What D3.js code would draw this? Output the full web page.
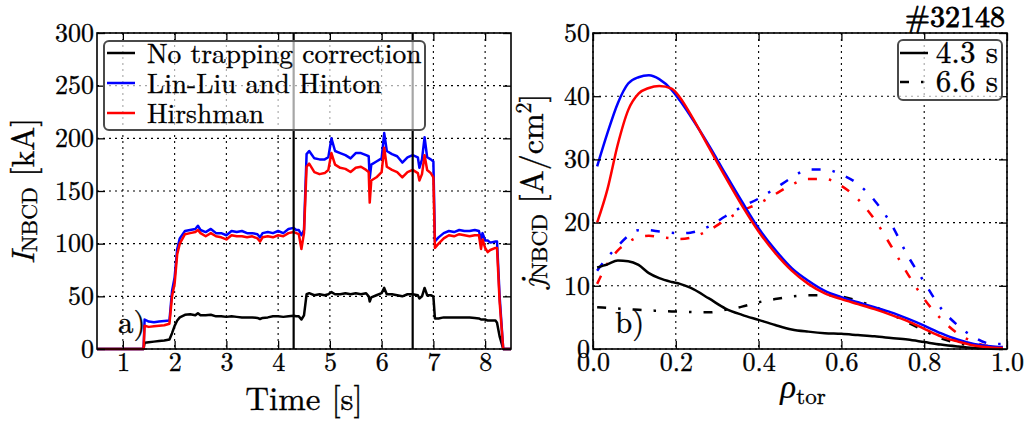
<!DOCTYPE html>
<html>
<head>
<meta charset="utf-8">
<script src="https://cdn.jsdelivr.net/npm/d3@7"></script>
</head>
<body style="margin:0;padding:0;background:#fff">
<svg id="chart" width="1027" height="423" font-family="Latin Modern Roman, Liberation Serif, serif"></svg>
<script>
// ---------------- DATA ----------------
// Panel a) time traces of NBCD current [kA]
const timeS = [0.5, 1.40, 1.42, 1.5, 1.6, 1.7, 1.8, 1.9, 1.95, 2.0, 2.05, 2.1, 2.2, 2.3, 2.4, 2.45, 2.5, 2.6, 2.7, 2.8, 2.9,
  3.0, 3.1, 3.2, 3.3, 3.4, 3.5, 3.6, 3.65, 3.7, 3.8, 3.9, 4.0, 4.1, 4.2, 4.3, 4.35, 4.4, 4.45, 4.5, 4.55, 4.6, 4.7, 4.8, 4.9, 4.97,
  5.03, 5.1, 5.2, 5.3, 5.4, 5.5, 5.6, 5.7, 5.75, 5.77, 5.8, 5.9, 6.0, 6.05, 6.1, 6.2, 6.3, 6.4, 6.5, 6.6, 6.7, 6.73, 6.78, 6.83,
  6.88, 6.95, 7.0, 7.03, 7.1, 7.2, 7.3, 7.4, 7.5, 7.6, 7.7, 7.8, 7.88, 7.92, 7.95, 8.0, 8.05, 8.1, 8.2, 8.23, 8.28, 8.35, 8.5];
const iLinLiu = [0, 0, 28, 26, 25.5, 26, 26.5, 27, 55, 68, 95, 105, 112, 113, 114, 117, 113, 111, 114, 110, 110,
  108, 112, 111, 112, 110, 110, 109, 106, 110, 111, 110, 112, 110, 114, 115, 113, 113, 108, 113, 185, 188, 181, 180, 180, 182,
  200, 188, 186, 184, 181, 186, 186, 184, 183, 162, 175, 178, 181, 205, 188, 185, 183, 177, 182, 184, 182, 172, 180, 201,
  182, 180, 178, 102, 106, 110, 112, 111, 113, 112, 112, 113, 112, 104, 110, 103, 103, 101, 102, 102, 50, 0, 0];
const iHirsh = [0, 0, 22, 21, 21.5, 22, 22.5, 24, 50, 62, 90, 100, 109, 110, 111, 113, 110, 107, 110, 107, 106,
  104, 108, 107, 107, 106, 107, 105, 102, 106, 107, 106, 108, 107, 110, 111, 110, 109, 95, 110, 173, 176, 168, 166, 167, 170,
  186, 175, 172, 171, 168, 172, 173, 170, 168, 139, 160, 163, 168, 191, 173, 170, 168, 163, 168, 170, 167, 160, 166, 184,
  170, 167, 163, 96, 100, 105, 108, 107, 109, 108, 107, 108, 108, 95, 104, 96, 92, 94, 96, 96, 45, 0, 0];
const iNoTrap = [0, 0, 6, 6.5, 7, 7.5, 8, 9, 15, 22, 27, 30, 32.5, 33, 32, 34, 32, 32, 32.5, 31, 31,
  30.5, 31, 30.5, 30, 30, 30, 29.5, 28.5, 29.5, 30, 31, 31, 30.5, 31, 31.5, 31, 31, 28, 32, 52, 53, 51, 52, 51, 52,
  54, 52, 52, 53, 52, 53, 52, 53, 50, 45, 49, 51, 53, 58, 52, 52, 51, 50, 52, 52, 51, 48, 50, 58,
  51, 51, 50, 29, 29, 30, 30, 30, 30, 30, 30, 29.5, 29, 28, 28, 28, 27, 27, 27, 25, 12, 0, 0];
const markTimes = [4.3, 6.6];
const timeTicks = [1, 2, 3, 4, 5, 6, 7, 8];
const currentTicks = [0, 50, 100, 150, 200, 250, 300];
const legendA = ["No trapping correction", "Lin-Liu and Hinton", "Hirshman"];

// Panel b) radial profiles of NBCD current density [A/cm^2]
const rho = [0.01, 0.035, 0.06, 0.085, 0.11, 0.135, 0.16, 0.19, 0.21, 0.235, 0.28, 0.32, 0.36, 0.40, 0.44, 0.48,
  0.52, 0.56, 0.60, 0.64, 0.68, 0.72, 0.76, 0.80, 0.84, 0.88, 0.92, 0.96, 0.99];
const jLinLiu43 = [28.9, 34.2, 38.9, 42.0, 43.0, 43.3, 42.7, 41.0, 39.3, 36.9, 32.2, 27.7, 23.3, 19.1, 15.7, 12.8,
  10.8, 9.2, 8.2, 7.4, 6.6, 5.8, 4.8, 3.7, 2.5, 1.5, 0.8, 0.45, 0.3];
const jHirsh43 = [20.0, 25.3, 32.4, 37.8, 40.4, 41.3, 41.6, 41.2, 39.8, 37.2, 31.9, 27.2, 22.7, 18.6, 15.2, 12.4,
  10.3, 8.8, 7.9, 7.1, 6.3, 5.4, 4.4, 3.2, 2.0, 1.2, 0.55, 0.25, 0.15];
const jNoTrap43 = [12.9, 13.4, 14.0, 13.9, 13.3, 12.0, 11.2, 10.6, 10.3, 9.7, 8.0, 6.4, 5.4, 4.6, 3.8, 3.1,
  2.75, 2.5, 2.4, 2.2, 2.0, 1.75, 1.5, 1.1, 0.7, 0.4, 0.16, 0.05, 0.0];
const jLinLiu66 = [12.4, 14.5, 16.3, 17.9, 18.8, 18.8, 18.6, 18.4, 18.3, 18.4, 19.4, 21.0, 22.5, 23.8, 25.4, 27.1,
  28.4, 28.4, 27.6, 26.1, 23.5, 19.8, 14.8, 10.6, 6.5, 3.8, 1.9, 0.85, 0.8];
const jHirsh66 = [10.3, 13.5, 15.6, 16.9, 17.7, 17.9, 17.7, 17.5, 17.4, 17.6, 18.8, 20.4, 21.9, 23.0, 24.5, 26.0,
  26.9, 26.9, 25.8, 23.7, 20.5, 16.3, 11.9, 7.9, 4.8, 2.5, 1.1, 0.4, 0.25];
const jNoTrap66 = [6.6, 6.5, 6.4, 6.3, 6.2, 6.1, 6.05, 5.95, 5.9, 5.85, 5.8, 6.2, 6.7, 7.4, 7.9, 8.3,
  8.5, 8.5, 8.3, 7.6, 6.7, 5.5, 4.2, 2.9, 1.7, 0.95, 0.4, 0.16, 0.0];
const rhoTicks = [0.0, 0.2, 0.4, 0.6, 0.8, 1.0];
const densityTicks = [0, 10, 20, 30, 40, 50];
const legendB = ["4.3 s", "6.6 s"];
const shotLabel = "#32148";

// ---------------- STYLE ----------------
const FONT = "Latin Modern Roman, Liberation Serif, serif";
const C_BLACK = "#000000", C_BLUE = "#0000ff", C_RED = "#ff0000";
const DASHDOT = "9,12,2.5,12";
const svg = d3.select("#chart");
svg.append("rect").attr("width", 1027).attr("height", 423).attr("fill", "#fff");
const T = (sel) => sel.append("text").attr("font-family", FONT).attr("fill", "#000")
  .attr("stroke", "#000").attr("stroke-width", 0.35);

function drawGrid(g, x, y, xt, yt, w, h) {
  g.append("g").selectAll("line").data(xt).join("line")
    .attr("x1", d => x(d)).attr("x2", d => x(d)).attr("y1", 0).attr("y2", h)
    .attr("stroke", "#000").attr("stroke-width", 1.1).attr("stroke-dasharray", "2,4");
  g.append("g").selectAll("line").data(yt).join("line")
    .attr("y1", d => y(d)).attr("y2", d => y(d)).attr("x1", 0).attr("x2", w)
    .attr("stroke", "#000").attr("stroke-width", 1.1).attr("stroke-dasharray", "2,4");
}
function drawAxes(g, x, y, xt, yt, xfmt, yfmt, w, h) {
  const TL = 8;
  const ax = [
    d3.axisBottom(x).tickValues(xt).tickSize(-TL).tickPadding(4).tickFormat(xfmt),
    d3.axisTop(x).tickValues(xt).tickSize(-TL).tickFormat(""),
    d3.axisLeft(y).tickValues(yt).tickSize(-TL).tickPadding(3).tickFormat(yfmt),
    d3.axisRight(y).tickValues(yt).tickSize(-TL).tickFormat("")
  ];
  const tr = [`translate(0,${h})`, `translate(0,0)`, `translate(0,0)`, `translate(${w},0)`];
  ax.forEach((a, i) => {
    const ag = g.append("g").attr("transform", tr[i]).call(a)
      .attr("font-family", FONT).attr("font-size", 26);
    ag.select(".domain").remove();
    ag.selectAll(".tick line").attr("stroke", "#000").attr("stroke-width", 1.3);
    ag.selectAll(".tick text").attr("font-family", FONT).attr("font-size", 26).attr("fill", "#000")
      .attr("stroke", "#000").attr("stroke-width", 0.35);
  });
  g.append("rect").attr("x", 0).attr("y", 0).attr("width", w).attr("height", h)
    .attr("fill", "none").attr("stroke", "#000").attr("stroke-width", 1.6);
}

// ---------------- PANEL A ----------------
const A = { l: 97, t: 33, w: 414, h: 316 };
const gA = svg.append("g").attr("transform", `translate(${A.l},${A.t})`);
const xA = d3.scaleLinear().domain([0.5, 8.5]).range([0, A.w]);
const yA = d3.scaleLinear().domain([0, 300]).range([A.h, 0]);
drawGrid(gA, xA, yA, timeTicks, currentTicks, A.w, A.h);
gA.append("clipPath").attr("id", "clipA").append("rect").attr("x", -2).attr("y", -2).attr("width", A.w + 4).attr("height", A.h + 4);
const lineA = s => d3.line().x((d, i) => xA(timeS[i])).y(d => yA(d))(s);
const pA = gA.append("g").attr("clip-path", "url(#clipA)");
[[iNoTrap, C_BLACK], [iLinLiu, C_BLUE], [iHirsh, C_RED]].forEach(([s, c]) => {
  pA.append("path").attr("d", lineA(s)).attr("fill", "none").attr("stroke", c)
    .attr("stroke-width", 2.5).attr("stroke-linejoin", "round");
});
gA.selectAll(".vmark").data(markTimes).join("line").attr("class", "vmark")
  .attr("x1", d => xA(d)).attr("x2", d => xA(d)).attr("y1", 0).attr("y2", A.h)
  .attr("stroke", "#000").attr("stroke-width", 2.2);
drawAxes(gA, xA, yA, timeTicks, currentTicks, d3.format("d"), d3.format("d"), A.w, A.h);

// legend A
const legA = svg.append("g");
legA.append("rect").attr("x", 104).attr("y", 41).attr("width", 321).attr("height", 89).attr("rx", 5)
  .attr("fill", "#fff").attr("fill-opacity", 0.65).attr("stroke", "#4a4a4a").attr("stroke-width", 2);
[C_BLACK, C_BLUE, C_RED].forEach((c, i) => {
  const yy = 53 + i * 30;
  legA.append("line").attr("x1", 107).attr("x2", 135).attr("y1", yy).attr("y2", yy).attr("stroke", c).attr("stroke-width", 2.5);
  T(legA).attr("x", 147).attr("y", yy + 10).attr("font-size", 27.5).text(legendA[i]);
});
T(svg).attr("x", 118).attr("y", 333).attr("font-size", 31).text("a)");

// axis labels A
T(svg).attr("x", 304).attr("y", 410).attr("text-anchor", "middle").attr("font-size", 33).text("Time [s]");
const ylA = T(svg).attr("transform", "translate(34,191) rotate(-90)").attr("text-anchor", "middle").attr("font-size", 32);
ylA.append("tspan").attr("font-style", "italic").text("I");
ylA.append("tspan").attr("font-size", 22).attr("dy", 3).text("NBCD");
ylA.append("tspan").attr("dy", -3).text(" [kA]");

// ---------------- PANEL B ----------------
const B = { l: 593, t: 33, w: 414, h: 316 };
const gB = svg.append("g").attr("transform", `translate(${B.l},${B.t})`);
const xB = d3.scaleLinear().domain([0, 1]).range([0, B.w]);
const yB = d3.scaleLinear().domain([0, 50]).range([B.h, 0]);
drawGrid(gB, xB, yB, rhoTicks, densityTicks, B.w, B.h);
const lineB = s => d3.line().curve(d3.curveMonotoneX).x((d, i) => xB(rho[i])).y(d => yB(d))(s);
[[jNoTrap66, C_BLACK, DASHDOT], [jLinLiu66, C_BLUE, DASHDOT], [jHirsh66, C_RED, DASHDOT],
 [jNoTrap43, C_BLACK, null], [jLinLiu43, C_BLUE, null], [jHirsh43, C_RED, null]].forEach(([s, c, da]) => {
  gB.append("path").attr("d", lineB(s)).attr("fill", "none").attr("stroke", c)
    .attr("stroke-width", 2.5).attr("stroke-dasharray", da);
});
drawAxes(gB, xB, yB, rhoTicks, densityTicks, d3.format(".1f"), d3.format("d"), B.w, B.h);

// legend B
const legB = svg.append("g");
legB.append("rect").attr("x", 898).attr("y", 40).attr("width", 104).attr("height", 60).attr("rx", 5)
  .attr("fill", "#fff").attr("fill-opacity", 0.65).attr("stroke", "#4a4a4a").attr("stroke-width", 2);
[null, DASHDOT].forEach((da, i) => {
  const yy = 53 + i * 29;
  legB.append("line").attr("x1", 900).attr("x2", 928).attr("y1", yy).attr("y2", yy)
    .attr("stroke", "#000").attr("stroke-width", 2.5).attr("stroke-dasharray", da);
  T(legB).attr("x", 998).attr("y", yy + 10).attr("text-anchor", "end").attr("font-size", 31).text(legendB[i]);
});
T(svg).attr("x", 615).attr("y", 333).attr("font-size", 31).text("b)");
T(svg).attr("x", 1005).attr("y", 27).attr("text-anchor", "end").attr("font-size", 30)
  .attr("stroke-width", 0.8).text(shotLabel);

// axis labels B
const xlB = T(svg).attr("x", 803).attr("y", 398).attr("text-anchor", "middle").attr("font-size", 33);
xlB.append("tspan").attr("font-family", "Liberation Serif").attr("font-style", "italic").attr("stroke-width", 0.2).text("ρ");
xlB.append("tspan").attr("font-size", 23).attr("dy", 6).text("tor");
const ylB = T(svg).attr("transform", "translate(543,191) rotate(-90)").attr("text-anchor", "middle").attr("font-size", 32);
ylB.append("tspan").attr("font-style", "italic").text("j");
ylB.append("tspan").attr("font-size", 22).attr("dy", 4).text("NBCD");
ylB.append("tspan").attr("dy", -4).text(" [A/cm");
ylB.append("tspan").attr("font-size", 22).attr("dy", -12).text("2");
ylB.append("tspan").attr("dy", 12).text("]");
</script>
</body>
</html>
